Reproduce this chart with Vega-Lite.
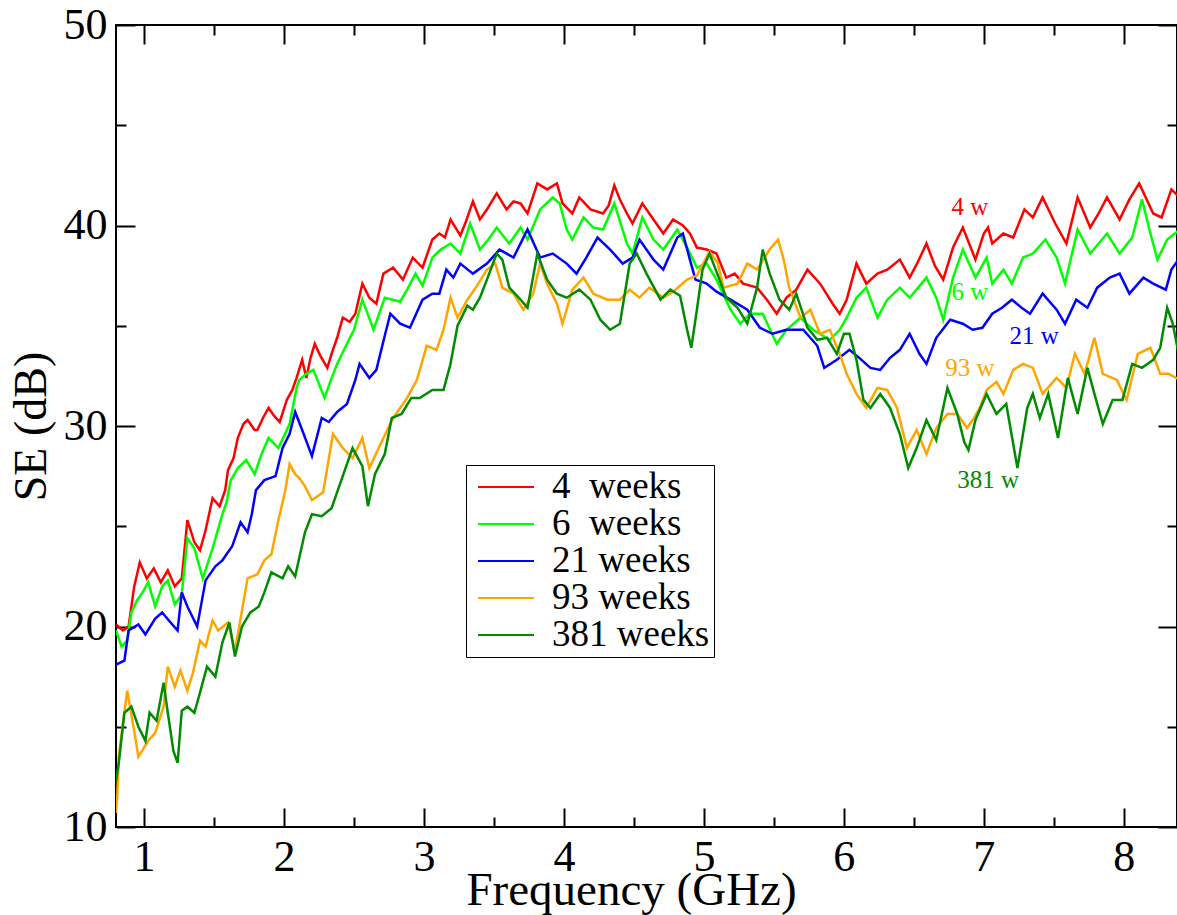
{
  "$schema": "https://vega.github.io/schema/vega-lite/v6.json",
  "width": 1061,
  "height": 802,
  "autosize": {"type": "none"},
  "padding": {"left": 116, "top": 25, "right": 0, "bottom": 88},
  "background": "white",
  "config": {
    "view": {"stroke": "black", "strokeWidth": 2},
    "font": "Liberation Serif",
    "axis": {"domain": false, "grid": false, "tickColor": "black", "tickWidth": 2, "labelColor": "black", "titleColor": "black", "labelFlush": false, "labelOverlap": false, "labelFont": "Liberation Serif", "titleFont": "Liberation Serif", "titleFontWeight": "normal"}
  },
  "resolve": {"axis": {"x": "independent", "y": "independent"}},
  "datasets": {
    "se": [
      {"s":"4","f":0.80,"v":20.1},{"s":"4","f":0.85,"v":19.8},{"s":"4","f":0.89,"v":20.0},{"s":"4","f":0.93,"v":22.0},{"s":"4","f":0.97,"v":23.2},{"s":"4","f":1.02,"v":22.4},{"s":"4","f":1.07,"v":22.9},{"s":"4","f":1.12,"v":22.2},{"s":"4","f":1.17,"v":22.8},{"s":"4","f":1.22,"v":22.0},{"s":"4","f":1.27,"v":22.4},{"s":"4","f":1.31,"v":25.3},{"s":"4","f":1.36,"v":24.2},{"s":"4","f":1.40,"v":23.8},{"s":"4","f":1.44,"v":24.8},{"s":"4","f":1.49,"v":26.4},{"s":"4","f":1.54,"v":26.0},{"s":"4","f":1.58,"v":26.8},{"s":"4","f":1.60,"v":27.8},{"s":"4","f":1.64,"v":28.4},{"s":"4","f":1.67,"v":29.4},{"s":"4","f":1.71,"v":30.1},{"s":"4","f":1.74,"v":30.3},{"s":"4","f":1.79,"v":29.8},{"s":"4","f":1.81,"v":29.8},{"s":"4","f":1.85,"v":30.4},{"s":"4","f":1.89,"v":30.9},{"s":"4","f":1.93,"v":30.5},{"s":"4","f":1.97,"v":30.2},{"s":"4","f":2.02,"v":31.3},{"s":"4","f":2.06,"v":31.8},{"s":"4","f":2.09,"v":32.4},{"s":"4","f":2.13,"v":33.3},{"s":"4","f":2.16,"v":32.4},{"s":"4","f":2.19,"v":33.4},{"s":"4","f":2.22,"v":34.1},{"s":"4","f":2.26,"v":33.5},{"s":"4","f":2.31,"v":32.9},{"s":"4","f":2.34,"v":33.6},{"s":"4","f":2.38,"v":34.4},{"s":"4","f":2.42,"v":35.4},{"s":"4","f":2.47,"v":35.2},{"s":"4","f":2.51,"v":35.6},{"s":"4","f":2.56,"v":37.1},{"s":"4","f":2.61,"v":36.4},{"s":"4","f":2.66,"v":36.1},{"s":"4","f":2.71,"v":37.6},{"s":"4","f":2.78,"v":37.9},{"s":"4","f":2.85,"v":37.3},{"s":"4","f":2.92,"v":38.4},{"s":"4","f":2.99,"v":37.9},{"s":"4","f":3.06,"v":39.3},{"s":"4","f":3.11,"v":39.6},{"s":"4","f":3.15,"v":39.4},{"s":"4","f":3.19,"v":40.3},{"s":"4","f":3.26,"v":39.5},{"s":"4","f":3.30,"v":40.2},{"s":"4","f":3.35,"v":41.2},{"s":"4","f":3.40,"v":40.3},{"s":"4","f":3.45,"v":40.8},{"s":"4","f":3.52,"v":41.6},{"s":"4","f":3.59,"v":40.8},{"s":"4","f":3.64,"v":41.2},{"s":"4","f":3.69,"v":41.1},{"s":"4","f":3.74,"v":40.6},{"s":"4","f":3.81,"v":42.1},{"s":"4","f":3.88,"v":41.8},{"s":"4","f":3.95,"v":42.1},{"s":"4","f":3.99,"v":41.1},{"s":"4","f":4.06,"v":40.6},{"s":"4","f":4.11,"v":41.4},{"s":"4","f":4.19,"v":40.8},{"s":"4","f":4.28,"v":40.6},{"s":"4","f":4.32,"v":41.0},{"s":"4","f":4.36,"v":42.0},{"s":"4","f":4.40,"v":41.3},{"s":"4","f":4.45,"v":40.6},{"s":"4","f":4.49,"v":40.1},{"s":"4","f":4.56,"v":41.1},{"s":"4","f":4.64,"v":40.3},{"s":"4","f":4.71,"v":39.6},{"s":"4","f":4.78,"v":40.3},{"s":"4","f":4.85,"v":40.0},{"s":"4","f":4.90,"v":39.6},{"s":"4","f":4.95,"v":38.9},{"s":"4","f":5.02,"v":38.8},{"s":"4","f":5.09,"v":38.6},{"s":"4","f":5.16,"v":37.4},{"s":"4","f":5.22,"v":37.6},{"s":"4","f":5.28,"v":37.1},{"s":"4","f":5.38,"v":36.9},{"s":"4","f":5.45,"v":36.3},{"s":"4","f":5.52,"v":35.6},{"s":"4","f":5.59,"v":36.4},{"s":"4","f":5.66,"v":36.8},{"s":"4","f":5.74,"v":37.8},{"s":"4","f":5.83,"v":37.1},{"s":"4","f":5.92,"v":36.1},{"s":"4","f":5.97,"v":35.6},{"s":"4","f":6.02,"v":36.3},{"s":"4","f":6.09,"v":38.1},{"s":"4","f":6.16,"v":37.1},{"s":"4","f":6.24,"v":37.6},{"s":"4","f":6.31,"v":37.8},{"s":"4","f":6.40,"v":38.3},{"s":"4","f":6.47,"v":37.4},{"s":"4","f":6.53,"v":38.2},{"s":"4","f":6.59,"v":39.1},{"s":"4","f":6.65,"v":38.0},{"s":"4","f":6.71,"v":37.3},{"s":"4","f":6.78,"v":38.9},{"s":"4","f":6.85,"v":39.9},{"s":"4","f":6.94,"v":38.3},{"s":"4","f":7.00,"v":39.6},{"s":"4","f":7.03,"v":39.9},{"s":"4","f":7.06,"v":39.1},{"s":"4","f":7.14,"v":39.6},{"s":"4","f":7.21,"v":39.4},{"s":"4","f":7.29,"v":40.8},{"s":"4","f":7.35,"v":40.4},{"s":"4","f":7.42,"v":41.4},{"s":"4","f":7.51,"v":40.1},{"s":"4","f":7.59,"v":39.1},{"s":"4","f":7.67,"v":41.4},{"s":"4","f":7.76,"v":39.9},{"s":"4","f":7.82,"v":40.6},{"s":"4","f":7.88,"v":41.4},{"s":"4","f":7.97,"v":40.3},{"s":"4","f":8.04,"v":41.3},{"s":"4","f":8.11,"v":42.1},{"s":"4","f":8.21,"v":40.6},{"s":"4","f":8.27,"v":40.4},{"s":"4","f":8.34,"v":41.8},{"s":"4","f":8.40,"v":41.4},

      {"s":"6","f":0.80,"v":19.8},{"s":"6","f":0.84,"v":19.0},{"s":"6","f":0.88,"v":19.3},{"s":"6","f":0.91,"v":20.7},{"s":"6","f":0.95,"v":21.3},{"s":"6","f":0.99,"v":21.7},{"s":"6","f":1.03,"v":22.2},{"s":"6","f":1.08,"v":21.0},{"s":"6","f":1.13,"v":22.0},{"s":"6","f":1.17,"v":22.3},{"s":"6","f":1.22,"v":21.1},{"s":"6","f":1.27,"v":21.6},{"s":"6","f":1.31,"v":24.4},{"s":"6","f":1.36,"v":23.9},{"s":"6","f":1.42,"v":22.4},{"s":"6","f":1.49,"v":23.9},{"s":"6","f":1.56,"v":25.6},{"s":"6","f":1.59,"v":26.2},{"s":"6","f":1.62,"v":27.3},{"s":"6","f":1.67,"v":27.9},{"s":"6","f":1.73,"v":28.3},{"s":"6","f":1.79,"v":27.6},{"s":"6","f":1.84,"v":28.6},{"s":"6","f":1.89,"v":29.4},{"s":"6","f":1.96,"v":28.9},{"s":"6","f":2.04,"v":30.1},{"s":"6","f":2.09,"v":31.9},{"s":"6","f":2.11,"v":32.3},{"s":"6","f":2.16,"v":32.6},{"s":"6","f":2.21,"v":32.8},{"s":"6","f":2.29,"v":31.4},{"s":"6","f":2.33,"v":32.2},{"s":"6","f":2.38,"v":33.1},{"s":"6","f":2.45,"v":34.1},{"s":"6","f":2.50,"v":34.8},{"s":"6","f":2.56,"v":36.3},{"s":"6","f":2.64,"v":34.8},{"s":"6","f":2.72,"v":36.4},{"s":"6","f":2.83,"v":36.2},{"s":"6","f":2.88,"v":36.8},{"s":"6","f":2.94,"v":37.6},{"s":"6","f":2.99,"v":37.0},{"s":"6","f":3.06,"v":38.4},{"s":"6","f":3.12,"v":38.8},{"s":"6","f":3.19,"v":39.1},{"s":"6","f":3.26,"v":38.6},{"s":"6","f":3.33,"v":40.1},{"s":"6","f":3.40,"v":38.8},{"s":"6","f":3.46,"v":39.3},{"s":"6","f":3.52,"v":39.9},{"s":"6","f":3.61,"v":39.1},{"s":"6","f":3.69,"v":39.9},{"s":"6","f":3.74,"v":39.3},{"s":"6","f":3.83,"v":40.8},{"s":"6","f":3.92,"v":41.4},{"s":"6","f":3.97,"v":41.1},{"s":"6","f":4.02,"v":39.8},{"s":"6","f":4.06,"v":39.3},{"s":"6","f":4.14,"v":40.4},{"s":"6","f":4.21,"v":39.9},{"s":"6","f":4.28,"v":39.8},{"s":"6","f":4.36,"v":41.1},{"s":"6","f":4.45,"v":39.1},{"s":"6","f":4.49,"v":38.6},{"s":"6","f":4.56,"v":40.4},{"s":"6","f":4.64,"v":39.3},{"s":"6","f":4.71,"v":38.8},{"s":"6","f":4.81,"v":39.8},{"s":"6","f":4.88,"v":38.9},{"s":"6","f":4.95,"v":37.9},{"s":"6","f":5.02,"v":38.1},{"s":"6","f":5.09,"v":37.3},{"s":"6","f":5.19,"v":35.8},{"s":"6","f":5.26,"v":35.1},{"s":"6","f":5.33,"v":35.6},{"s":"6","f":5.42,"v":35.6},{"s":"6","f":5.52,"v":34.1},{"s":"6","f":5.59,"v":34.8},{"s":"6","f":5.69,"v":35.4},{"s":"6","f":5.78,"v":34.8},{"s":"6","f":5.90,"v":34.3},{"s":"6","f":5.97,"v":34.8},{"s":"6","f":6.02,"v":35.4},{"s":"6","f":6.09,"v":36.4},{"s":"6","f":6.16,"v":36.9},{"s":"6","f":6.24,"v":35.4},{"s":"6","f":6.31,"v":36.3},{"s":"6","f":6.40,"v":36.9},{"s":"6","f":6.47,"v":36.4},{"s":"6","f":6.59,"v":37.4},{"s":"6","f":6.66,"v":36.4},{"s":"6","f":6.71,"v":35.3},{"s":"6","f":6.78,"v":37.4},{"s":"6","f":6.85,"v":38.8},{"s":"6","f":6.94,"v":37.4},{"s":"6","f":7.02,"v":38.4},{"s":"6","f":7.06,"v":37.1},{"s":"6","f":7.14,"v":37.8},{"s":"6","f":7.20,"v":37.1},{"s":"6","f":7.28,"v":38.4},{"s":"6","f":7.35,"v":38.6},{"s":"6","f":7.44,"v":39.3},{"s":"6","f":7.52,"v":38.4},{"s":"6","f":7.58,"v":37.1},{"s":"6","f":7.67,"v":39.8},{"s":"6","f":7.76,"v":38.6},{"s":"6","f":7.88,"v":39.6},{"s":"6","f":7.97,"v":38.6},{"s":"6","f":8.06,"v":39.4},{"s":"6","f":8.13,"v":41.3},{"s":"6","f":8.19,"v":39.6},{"s":"6","f":8.24,"v":38.3},{"s":"6","f":8.31,"v":39.3},{"s":"6","f":8.40,"v":39.8},

      {"s":"21","f":0.80,"v":18.1},{"s":"21","f":0.86,"v":18.3},{"s":"21","f":0.89,"v":19.8},{"s":"21","f":0.96,"v":20.1},{"s":"21","f":1.01,"v":19.6},{"s":"21","f":1.08,"v":20.4},{"s":"21","f":1.13,"v":20.7},{"s":"21","f":1.19,"v":20.2},{"s":"21","f":1.24,"v":19.8},{"s":"21","f":1.27,"v":21.7},{"s":"21","f":1.31,"v":21.0},{"s":"21","f":1.38,"v":20.0},{"s":"21","f":1.44,"v":22.3},{"s":"21","f":1.51,"v":23.0},{"s":"21","f":1.56,"v":23.3},{"s":"21","f":1.63,"v":24.0},{"s":"21","f":1.69,"v":25.2},{"s":"21","f":1.74,"v":24.7},{"s":"21","f":1.77,"v":25.6},{"s":"21","f":1.80,"v":26.8},{"s":"21","f":1.86,"v":27.3},{"s":"21","f":1.94,"v":27.5},{"s":"21","f":1.99,"v":28.9},{"s":"21","f":2.04,"v":29.6},{"s":"21","f":2.08,"v":30.7},{"s":"21","f":2.13,"v":29.8},{"s":"21","f":2.20,"v":28.5},{"s":"21","f":2.27,"v":30.4},{"s":"21","f":2.32,"v":30.2},{"s":"21","f":2.38,"v":30.7},{"s":"21","f":2.45,"v":31.1},{"s":"21","f":2.51,"v":32.3},{"s":"21","f":2.54,"v":33.1},{"s":"21","f":2.61,"v":32.4},{"s":"21","f":2.66,"v":32.8},{"s":"21","f":2.72,"v":34.5},{"s":"21","f":2.76,"v":35.6},{"s":"21","f":2.83,"v":35.1},{"s":"21","f":2.90,"v":34.9},{"s":"21","f":2.99,"v":36.3},{"s":"21","f":3.06,"v":36.6},{"s":"21","f":3.11,"v":36.6},{"s":"21","f":3.16,"v":37.8},{"s":"21","f":3.21,"v":37.4},{"s":"21","f":3.26,"v":38.1},{"s":"21","f":3.35,"v":37.6},{"s":"21","f":3.45,"v":38.1},{"s":"21","f":3.54,"v":38.8},{"s":"21","f":3.64,"v":38.4},{"s":"21","f":3.74,"v":39.8},{"s":"21","f":3.83,"v":38.4},{"s":"21","f":3.92,"v":38.6},{"s":"21","f":4.02,"v":38.1},{"s":"21","f":4.09,"v":37.6},{"s":"21","f":4.16,"v":38.4},{"s":"21","f":4.24,"v":39.4},{"s":"21","f":4.33,"v":38.8},{"s":"21","f":4.42,"v":38.1},{"s":"21","f":4.49,"v":38.4},{"s":"21","f":4.54,"v":39.3},{"s":"21","f":4.64,"v":38.3},{"s":"21","f":4.71,"v":37.8},{"s":"21","f":4.81,"v":39.4},{"s":"21","f":4.85,"v":39.6},{"s":"21","f":4.90,"v":38.3},{"s":"21","f":4.94,"v":37.3},{"s":"21","f":5.02,"v":37.1},{"s":"21","f":5.09,"v":36.7},{"s":"21","f":5.19,"v":36.3},{"s":"21","f":5.31,"v":35.8},{"s":"21","f":5.40,"v":34.9},{"s":"21","f":5.49,"v":34.6},{"s":"21","f":5.59,"v":34.8},{"s":"21","f":5.71,"v":34.8},{"s":"21","f":5.81,"v":34.0},{"s":"21","f":5.86,"v":32.9},{"s":"21","f":5.95,"v":33.3},{"s":"21","f":6.04,"v":33.8},{"s":"21","f":6.11,"v":33.4},{"s":"21","f":6.19,"v":32.9},{"s":"21","f":6.26,"v":32.8},{"s":"21","f":6.33,"v":33.4},{"s":"21","f":6.40,"v":33.8},{"s":"21","f":6.47,"v":34.6},{"s":"21","f":6.54,"v":33.6},{"s":"21","f":6.59,"v":33.1},{"s":"21","f":6.66,"v":34.4},{"s":"21","f":6.76,"v":35.3},{"s":"21","f":6.85,"v":35.1},{"s":"21","f":6.92,"v":34.8},{"s":"21","f":6.99,"v":34.9},{"s":"21","f":7.06,"v":35.6},{"s":"21","f":7.13,"v":35.9},{"s":"21","f":7.20,"v":36.3},{"s":"21","f":7.27,"v":35.9},{"s":"21","f":7.33,"v":35.6},{"s":"21","f":7.42,"v":36.6},{"s":"21","f":7.52,"v":35.8},{"s":"21","f":7.58,"v":35.1},{"s":"21","f":7.66,"v":36.3},{"s":"21","f":7.74,"v":35.9},{"s":"21","f":7.81,"v":36.9},{"s":"21","f":7.90,"v":37.4},{"s":"21","f":7.97,"v":37.6},{"s":"21","f":8.04,"v":36.6},{"s":"21","f":8.14,"v":37.4},{"s":"21","f":8.21,"v":37.1},{"s":"21","f":8.30,"v":36.8},{"s":"21","f":8.34,"v":37.8},{"s":"21","f":8.40,"v":38.4},

      {"s":"93","f":0.80,"v":10.7},{"s":"93","f":0.81,"v":11.7},{"s":"93","f":0.82,"v":13.5},{"s":"93","f":0.85,"v":15.2},{"s":"93","f":0.88,"v":16.8},{"s":"93","f":0.93,"v":14.8},{"s":"93","f":0.96,"v":13.5},{"s":"93","f":1.03,"v":14.3},{"s":"93","f":1.08,"v":14.7},{"s":"93","f":1.14,"v":16.0},{"s":"93","f":1.17,"v":18.0},{"s":"93","f":1.22,"v":17.0},{"s":"93","f":1.26,"v":17.8},{"s":"93","f":1.31,"v":16.8},{"s":"93","f":1.35,"v":17.7},{"s":"93","f":1.40,"v":19.3},{"s":"93","f":1.44,"v":19.0},{"s":"93","f":1.49,"v":20.3},{"s":"93","f":1.53,"v":19.8},{"s":"93","f":1.60,"v":20.2},{"s":"93","f":1.65,"v":18.8},{"s":"93","f":1.70,"v":20.8},{"s":"93","f":1.74,"v":22.4},{"s":"93","f":1.81,"v":22.6},{"s":"93","f":1.86,"v":23.3},{"s":"93","f":1.91,"v":23.6},{"s":"93","f":1.96,"v":25.3},{"s":"93","f":2.01,"v":26.8},{"s":"93","f":2.04,"v":28.1},{"s":"93","f":2.08,"v":27.6},{"s":"93","f":2.11,"v":27.4},{"s":"93","f":2.15,"v":27.0},{"s":"93","f":2.20,"v":26.3},{"s":"93","f":2.28,"v":26.7},{"s":"93","f":2.35,"v":29.6},{"s":"93","f":2.42,"v":28.9},{"s":"93","f":2.49,"v":28.4},{"s":"93","f":2.56,"v":29.4},{"s":"93","f":2.61,"v":27.9},{"s":"93","f":2.69,"v":29.1},{"s":"93","f":2.78,"v":30.4},{"s":"93","f":2.88,"v":31.4},{"s":"93","f":2.95,"v":32.3},{"s":"93","f":3.02,"v":34.0},{"s":"93","f":3.09,"v":33.8},{"s":"93","f":3.14,"v":34.8},{"s":"93","f":3.19,"v":36.4},{"s":"93","f":3.24,"v":35.4},{"s":"93","f":3.31,"v":36.3},{"s":"93","f":3.38,"v":37.0},{"s":"93","f":3.45,"v":37.8},{"s":"93","f":3.51,"v":38.1},{"s":"93","f":3.56,"v":36.9},{"s":"93","f":3.64,"v":36.6},{"s":"93","f":3.71,"v":35.8},{"s":"93","f":3.78,"v":36.6},{"s":"93","f":3.83,"v":38.1},{"s":"93","f":3.88,"v":37.1},{"s":"93","f":3.95,"v":36.1},{"s":"93","f":3.99,"v":35.1},{"s":"93","f":4.06,"v":36.8},{"s":"93","f":4.14,"v":37.4},{"s":"93","f":4.21,"v":36.6},{"s":"93","f":4.31,"v":36.3},{"s":"93","f":4.40,"v":36.3},{"s":"93","f":4.47,"v":36.8},{"s":"93","f":4.54,"v":36.4},{"s":"93","f":4.61,"v":36.9},{"s":"93","f":4.71,"v":36.4},{"s":"93","f":4.78,"v":36.7},{"s":"93","f":4.88,"v":37.3},{"s":"93","f":4.95,"v":37.5},{"s":"93","f":5.04,"v":38.7},{"s":"93","f":5.10,"v":38.1},{"s":"93","f":5.14,"v":36.9},{"s":"93","f":5.24,"v":37.1},{"s":"93","f":5.31,"v":38.1},{"s":"93","f":5.38,"v":37.8},{"s":"93","f":5.47,"v":38.8},{"s":"93","f":5.53,"v":39.3},{"s":"93","f":5.57,"v":38.3},{"s":"93","f":5.61,"v":36.9},{"s":"93","f":5.69,"v":35.4},{"s":"93","f":5.76,"v":35.8},{"s":"93","f":5.83,"v":34.6},{"s":"93","f":5.90,"v":34.8},{"s":"93","f":5.97,"v":33.6},{"s":"93","f":6.02,"v":32.6},{"s":"93","f":6.09,"v":31.6},{"s":"93","f":6.16,"v":30.9},{"s":"93","f":6.24,"v":31.9},{"s":"93","f":6.31,"v":31.8},{"s":"93","f":6.38,"v":30.9},{"s":"93","f":6.45,"v":28.9},{"s":"93","f":6.52,"v":29.8},{"s":"93","f":6.59,"v":28.6},{"s":"93","f":6.66,"v":29.9},{"s":"93","f":6.74,"v":30.6},{"s":"93","f":6.81,"v":30.6},{"s":"93","f":6.88,"v":29.9},{"s":"93","f":6.93,"v":30.4},{"s":"93","f":6.97,"v":30.9},{"s":"93","f":7.02,"v":31.8},{"s":"93","f":7.09,"v":32.2},{"s":"93","f":7.14,"v":31.6},{"s":"93","f":7.21,"v":32.8},{"s":"93","f":7.28,"v":33.1},{"s":"93","f":7.35,"v":32.9},{"s":"93","f":7.42,"v":31.6},{"s":"93","f":7.52,"v":32.4},{"s":"93","f":7.59,"v":31.9},{"s":"93","f":7.65,"v":33.6},{"s":"93","f":7.72,"v":32.6},{"s":"93","f":7.79,"v":34.4},{"s":"93","f":7.85,"v":32.6},{"s":"93","f":7.95,"v":32.3},{"s":"93","f":8.02,"v":31.3},{"s":"93","f":8.10,"v":33.6},{"s":"93","f":8.19,"v":33.9},{"s":"93","f":8.26,"v":32.6},{"s":"93","f":8.32,"v":32.6},{"s":"93","f":8.40,"v":32.3},

      {"s":"381","f":0.80,"v":12.3},{"s":"381","f":0.82,"v":13.2},{"s":"381","f":0.86,"v":15.7},{"s":"381","f":0.91,"v":16.0},{"s":"381","f":0.96,"v":15.0},{"s":"381","f":1.01,"v":14.3},{"s":"381","f":1.04,"v":15.7},{"s":"381","f":1.09,"v":15.3},{"s":"381","f":1.14,"v":17.2},{"s":"381","f":1.17,"v":15.7},{"s":"381","f":1.21,"v":13.8},{"s":"381","f":1.24,"v":13.2},{"s":"381","f":1.27,"v":15.8},{"s":"381","f":1.31,"v":16.0},{"s":"381","f":1.36,"v":15.7},{"s":"381","f":1.40,"v":16.7},{"s":"381","f":1.45,"v":18.0},{"s":"381","f":1.51,"v":17.5},{"s":"381","f":1.56,"v":19.2},{"s":"381","f":1.61,"v":20.2},{"s":"381","f":1.65,"v":18.5},{"s":"381","f":1.70,"v":20.0},{"s":"381","f":1.76,"v":20.7},{"s":"381","f":1.82,"v":21.0},{"s":"381","f":1.86,"v":21.7},{"s":"381","f":1.91,"v":22.7},{"s":"381","f":1.99,"v":22.4},{"s":"381","f":2.03,"v":23.0},{"s":"381","f":2.08,"v":22.5},{"s":"381","f":2.15,"v":24.7},{"s":"381","f":2.20,"v":25.6},{"s":"381","f":2.27,"v":25.5},{"s":"381","f":2.34,"v":25.9},{"s":"381","f":2.41,"v":27.3},{"s":"381","f":2.49,"v":28.9},{"s":"381","f":2.56,"v":28.0},{"s":"381","f":2.60,"v":26.0},{"s":"381","f":2.65,"v":27.6},{"s":"381","f":2.72,"v":28.6},{"s":"381","f":2.77,"v":30.4},{"s":"381","f":2.84,"v":30.6},{"s":"381","f":2.91,"v":31.4},{"s":"381","f":2.97,"v":31.4},{"s":"381","f":3.06,"v":31.8},{"s":"381","f":3.14,"v":31.8},{"s":"381","f":3.19,"v":33.1},{"s":"381","f":3.24,"v":35.0},{"s":"381","f":3.31,"v":36.0},{"s":"381","f":3.35,"v":35.8},{"s":"381","f":3.40,"v":36.4},{"s":"381","f":3.45,"v":37.3},{"s":"381","f":3.52,"v":38.6},{"s":"381","f":3.56,"v":38.3},{"s":"381","f":3.61,"v":36.9},{"s":"381","f":3.69,"v":36.3},{"s":"381","f":3.74,"v":35.9},{"s":"381","f":3.81,"v":38.6},{"s":"381","f":3.88,"v":37.3},{"s":"381","f":3.95,"v":36.6},{"s":"381","f":4.02,"v":36.4},{"s":"381","f":4.11,"v":36.8},{"s":"381","f":4.19,"v":36.3},{"s":"381","f":4.26,"v":35.3},{"s":"381","f":4.33,"v":34.8},{"s":"381","f":4.40,"v":35.1},{"s":"381","f":4.47,"v":38.1},{"s":"381","f":4.52,"v":38.6},{"s":"381","f":4.59,"v":37.6},{"s":"381","f":4.69,"v":36.3},{"s":"381","f":4.76,"v":36.8},{"s":"381","f":4.83,"v":36.5},{"s":"381","f":4.88,"v":34.8},{"s":"381","f":4.91,"v":33.9},{"s":"381","f":4.95,"v":35.8},{"s":"381","f":4.99,"v":37.8},{"s":"381","f":5.04,"v":38.6},{"s":"381","f":5.09,"v":37.7},{"s":"381","f":5.16,"v":36.4},{"s":"381","f":5.24,"v":35.9},{"s":"381","f":5.31,"v":35.1},{"s":"381","f":5.38,"v":36.9},{"s":"381","f":5.42,"v":38.8},{"s":"381","f":5.47,"v":37.6},{"s":"381","f":5.54,"v":36.3},{"s":"381","f":5.61,"v":35.8},{"s":"381","f":5.66,"v":36.6},{"s":"381","f":5.74,"v":34.9},{"s":"381","f":5.81,"v":34.3},{"s":"381","f":5.88,"v":34.4},{"s":"381","f":5.95,"v":33.6},{"s":"381","f":6.00,"v":34.6},{"s":"381","f":6.04,"v":34.6},{"s":"381","f":6.09,"v":33.3},{"s":"381","f":6.14,"v":31.3},{"s":"381","f":6.19,"v":30.9},{"s":"381","f":6.26,"v":31.6},{"s":"381","f":6.33,"v":30.9},{"s":"381","f":6.40,"v":29.6},{"s":"381","f":6.46,"v":27.9},{"s":"381","f":6.52,"v":28.9},{"s":"381","f":6.59,"v":30.3},{"s":"381","f":6.66,"v":29.3},{"s":"381","f":6.74,"v":31.9},{"s":"381","f":6.81,"v":30.6},{"s":"381","f":6.86,"v":29.2},{"s":"381","f":6.89,"v":28.8},{"s":"381","f":6.94,"v":30.3},{"s":"381","f":7.02,"v":31.6},{"s":"381","f":7.09,"v":30.6},{"s":"381","f":7.16,"v":31.1},{"s":"381","f":7.24,"v":27.9},{"s":"381","f":7.31,"v":30.9},{"s":"381","f":7.35,"v":31.6},{"s":"381","f":7.40,"v":30.4},{"s":"381","f":7.46,"v":31.6},{"s":"381","f":7.53,"v":29.4},{"s":"381","f":7.60,"v":32.4},{"s":"381","f":7.67,"v":30.6},{"s":"381","f":7.74,"v":32.9},{"s":"381","f":7.79,"v":31.6},{"s":"381","f":7.85,"v":30.1},{"s":"381","f":7.92,"v":31.3},{"s":"381","f":7.99,"v":31.3},{"s":"381","f":8.06,"v":33.1},{"s":"381","f":8.13,"v":32.9},{"s":"381","f":8.21,"v":33.3},{"s":"381","f":8.26,"v":33.9},{"s":"381","f":8.31,"v":35.9},{"s":"381","f":8.35,"v":35.1},{"s":"381","f":8.40,"v":33.3}
    ],
    "ann": [
      {"s":"4","t":"4 w","f":6.90,"v":40.9},
      {"s":"6","t":"6 w","f":6.90,"v":36.7},
      {"s":"21","t":"21 w","f":7.36,"v":34.5},
      {"s":"93","t":"93 w","f":6.90,"v":32.9},
      {"s":"381","t":"381 w","f":7.03,"v":27.3}
    ]
  },
  "layer": [
    {
      "data": {"name": "se"},
      "mark": {"type": "line", "strokeWidth": 2.5, "clip": true, "interpolate": "linear"},
      "encoding": {
        "x": {"field": "f", "type": "quantitative", "scale": {"domain": [0.8, 8.38], "nice": false, "zero": false},
              "axis": {"orient": "bottom", "values": [1,2,3,4,5,6,7,8], "tickSize": -19, "labelPadding": 27, "labelFontSize": 44, "title": "Frequency (GHz)", "titleFontSize": 47, "titleX": 515, "titleY": 77, "titleBaseline": "alphabetic"}},
        "y": {"field": "v", "type": "quantitative", "scale": {"domain": [10, 50], "nice": false, "zero": false},
              "axis": {"orient": "left", "values": [10,20,30,40,50], "tickSize": -19, "labelPadding": 28, "labelFontSize": 44, "title": "SE (dB)", "titleFontSize": 46, "titlePadding": 8}},
        "color": {"field": "s", "type": "nominal",
                  "scale": {"domain": ["4","6","21","93","381"], "range": ["#ff0000","#00ff00","#0000ff","#ffa500","#008b00"]},
                  "legend": {"orient": "none", "legendX": 350, "legendY": 440, "title": null, "symbolType": "stroke", "symbolSize": 3136, "symbolStrokeWidth": 2, "symbolOffset": 7, "labelFontSize": 37, "labelFont": "Liberation Serif", "labelColor": "black", "labelOffset": 17, "clipHeight": 36, "rowPadding": 0, "padding": 4, "strokeColor": "black", "fillColor": "white",
                             "labelExpr": "(datum.label == '4' || datum.label == '6') ? datum.label + '\u00a0 weeks' : datum.label + ' weeks'"}}
      }
    },
    {
      "data": {"name": "ann"},
      "mark": {"type": "point", "opacity": 0},
      "encoding": {
        "x": {"field": "f", "type": "quantitative", "axis": {"orient": "bottom", "values": [1.5,2.5,3.5,4.5,5.5,6.5,7.5], "tickSize": -10, "labels": false, "title": null}},
        "y": {"field": "v", "type": "quantitative", "axis": {"orient": "left", "values": [15,25,35,45], "tickSize": -10, "labels": false, "title": null}}
      }
    },
    {
      "data": {"name": "ann"},
      "mark": {"type": "point", "opacity": 0},
      "encoding": {
        "x": {"field": "f", "type": "quantitative", "axis": {"orient": "top", "values": [1,2,3,4,5,6,7,8], "tickSize": -19, "labels": false, "title": null}},
        "y": {"field": "v", "type": "quantitative", "axis": {"orient": "right", "values": [10,20,30,40,50], "tickSize": -19, "labels": false, "title": null}}
      }
    },
    {
      "data": {"name": "ann"},
      "mark": {"type": "point", "opacity": 0},
      "encoding": {
        "x": {"field": "f", "type": "quantitative", "axis": {"orient": "top", "values": [1.5,2.5,3.5,4.5,5.5,6.5,7.5], "tickSize": -10, "labels": false, "title": null}},
        "y": {"field": "v", "type": "quantitative", "axis": {"orient": "right", "values": [15,25,35,45], "tickSize": -10, "labels": false, "title": null}}
      }
    },
    {
      "data": {"name": "ann"},
      "mark": {"type": "text", "fontSize": 25, "font": "Liberation Serif", "align": "center", "baseline": "middle"},
      "encoding": {
        "x": {"field": "f", "type": "quantitative", "axis": null},
        "y": {"field": "v", "type": "quantitative", "axis": null},
        "text": {"field": "t"},
        "color": {"field": "s", "type": "nominal", "legend": null}
      }
    }
  ]
}
